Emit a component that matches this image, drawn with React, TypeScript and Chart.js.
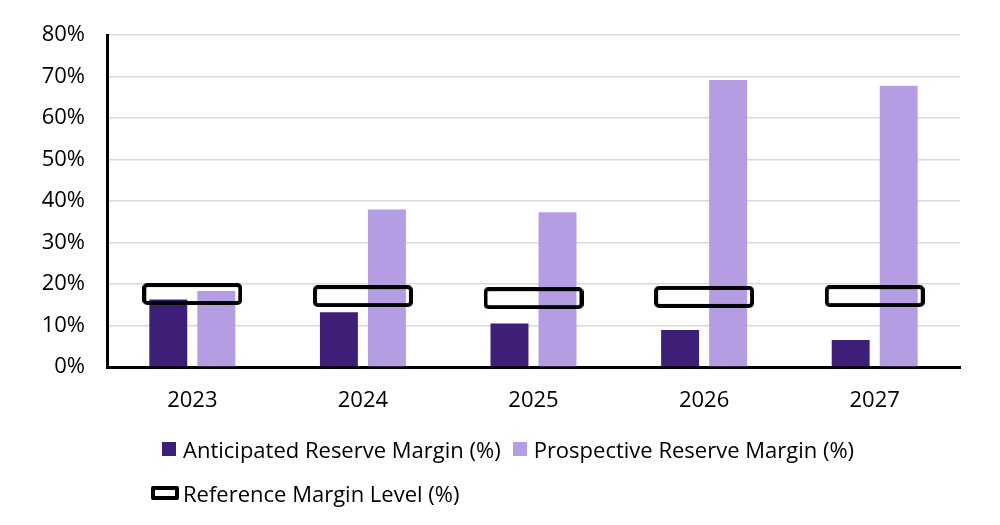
import React, { useEffect, useRef } from "react";
import { Chart, registerables } from "chart.js";

Chart.register(...registerables);

const categories = ["2023", "2024", "2025", "2026", "2027"];
const anticipated = [16.3, 13.2, 10.5, 8.9, 6.5];
const prospective = [18.3, 38.0, 37.3, 69.2, 67.8];
const referenceLevel = [17.6, 17.1, 16.6, 16.9, 17.1];
const yTicks = [0, 10, 20, 30, 40, 50, 60, 70, 80];

const seriesNames = [
  "Anticipated Reserve Margin (%)",
  "Prospective Reserve Margin (%)",
  "Reference Margin Level (%)",
];

const DARK = "#3d1f78";
const LIGHT = "#b49de3";
const FONT = "'Open Sans', 'Noto Sans', sans-serif";
const FONT_SIZE = 22;

function makeBoxMarker(w: number, h: number, lw: number): HTMLCanvasElement {
  const c = document.createElement("canvas");
  c.width = w;
  c.height = h;
  const ctx = c.getContext("2d")!;
  ctx.strokeStyle = "#000";
  ctx.lineWidth = lw;
  ctx.beginPath();
  const r = 3;
  const x = lw / 2, y = lw / 2, ww = w - lw, hh = h - lw;
  if ((ctx as any).roundRect) {
    (ctx as any).roundRect(x, y, ww, hh, r);
  } else {
    ctx.rect(x, y, ww, hh);
  }
  ctx.stroke();
  return c;
}

export default function App() {
  const ref = useRef<HTMLCanvasElement>(null);

  useEffect(() => {
    if (!ref.current) return;
    const marker = makeBoxMarker(100, 22, 4);
    const chart = new Chart(ref.current, {
      type: "bar",
      data: {
        labels: categories,
        datasets: [
          {
            type: "line" as any,
            label: seriesNames[2],
            data: referenceLevel,
            showLine: false,
            pointStyle: marker as any,
            pointRadius: 5,
            pointHoverRadius: 5,
            borderColor: "#000",
            backgroundColor: "transparent",
            order: 0,
          } as any,
          {
            label: seriesNames[0],
            data: anticipated,
            backgroundColor: DARK,
            categoryPercentage: 0.563,
            barPercentage: 0.79,
            order: 1,
          },
          {
            label: seriesNames[1],
            data: prospective,
            backgroundColor: LIGHT,
            categoryPercentage: 0.563,
            barPercentage: 0.79,
            order: 1,
          },
        ],
      },
      options: {
        animation: false,
        responsive: false,
        maintainAspectRatio: false,
        devicePixelRatio: 1,
        layout: { padding: { left: 0, right: 40, top: 34, bottom: 108 } },
        plugins: {
          legend: { display: false },
          tooltip: { enabled: false },
        },
        scales: {
          x: {
            grid: { display: false },
            border: { display: true, color: "#000", width: 3 },
            ticks: {
              color: "#000",
              font: { family: FONT, size: FONT_SIZE },
              padding: 13,
            },
            afterFit: (s: any) => {
              s.height = 50;
            },
          },
          y: {
            min: 0,
            max: 80,
            afterBuildTicks: (s: any) => {
              s.ticks = yTicks.map((v) => ({ value: v }));
            },
            grid: { color: "#d9d9d9", lineWidth: 1.5, drawTicks: false },
            border: { display: true, color: "#000", width: 3 },
            ticks: {
              color: "#000",
              font: { family: FONT, size: FONT_SIZE },
              padding: 22,
              callback: (v: any) => `${v}%`,
            },
            afterFit: (s: any) => {
              s.width = 107;
            },
          },
        },
      },
    });
    return () => chart.destroy();
  }, []);

  const textStyle: React.CSSProperties = {
    fontFamily: FONT,
    fontSize: FONT_SIZE,
    color: "#000",
    whiteSpace: "nowrap",
    lineHeight: "24px",
  };
  const sq = (c: string): React.CSSProperties => ({
    width: 14,
    height: 14,
    background: c,
    display: "inline-block",
    marginRight: 7,
  });

  return (
    <div style={{ position: "fixed", left: 0, top: 0, width: 1000, height: 525, background: "#fff" }}>
      <canvas ref={ref} width={1000} height={525} style={{ width: 1000, height: 525, display: "block" }} />
      <div
        style={{
          position: "absolute",
          left: 162,
          top: 437,
          display: "flex",
          alignItems: "center",
          ...textStyle,
        }}
      >
        <span style={sq(DARK)} />
        <span>{seriesNames[0]}</span>
        <span style={{ ...sq(LIGHT), marginLeft: 12 }} />
        <span>{seriesNames[1]}</span>
      </div>
      <div
        style={{
          position: "absolute",
          left: 151,
          top: 481,
          display: "flex",
          alignItems: "center",
          ...textStyle,
        }}
      >
        <span
          style={{
            width: 20,
            height: 6,
            border: "4px solid #000",
            borderRadius: 2,
            display: "inline-block",
            marginRight: 4,
          }}
        />
        <span>{seriesNames[2]}</span>
      </div>
    </div>
  );
}
